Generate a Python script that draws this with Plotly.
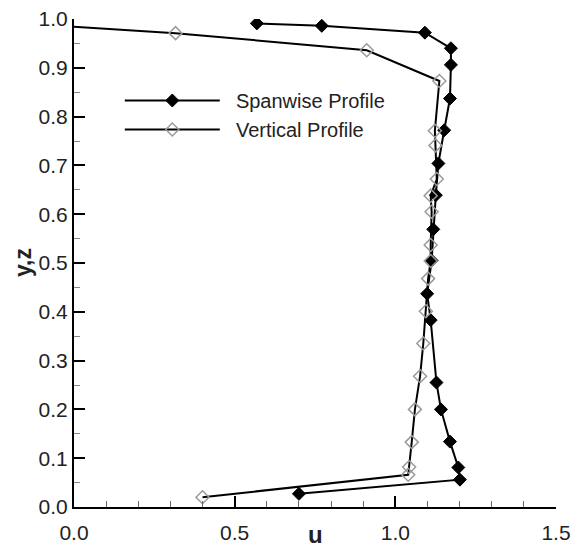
import plotly.graph_objects as go

# Spanwise velocity profile (filled diamonds)
span_u = [0.569, 0.771, 1.092, 1.173, 1.173, 1.170, 1.152, 1.134, 1.126, 1.118,
          1.113, 1.099, 1.110, 1.128, 1.142, 1.170, 1.196, 1.201, 0.700]
span_y = [0.991, 0.986, 0.972, 0.940, 0.906, 0.837, 0.772, 0.704, 0.639, 0.569,
          0.505, 0.437, 0.383, 0.255, 0.200, 0.134, 0.081, 0.056, 0.027]

# Vertical velocity profile (open diamonds)
vert_u = [-0.04, 0.316, 0.911, 1.137, 1.123, 1.125, 1.129, 1.110, 1.113, 1.110,
          1.110, 1.102, 1.095, 1.087, 1.077, 1.061, 1.051, 1.043, 1.040, 0.400]
vert_y = [0.986, 0.971, 0.936, 0.873, 0.771, 0.741, 0.672, 0.638, 0.605, 0.537,
          0.504, 0.468, 0.401, 0.335, 0.268, 0.200, 0.133, 0.082, 0.066, 0.020]

FONT = "Liberation Sans, Arial, sans-serif"
NBSP = "\u00a0\u00a0"

fig = go.Figure()
fig.add_trace(go.Scatter(
    x=span_u, y=span_y, mode="lines+markers", name=NBSP + "Spanwise Profile",
    line=dict(color="black", width=2),
    marker=dict(symbol="diamond", size=10, color="black",
                line=dict(color="black", width=1)),
))
fig.add_trace(go.Scatter(
    x=vert_u, y=vert_y, mode="lines+markers", name=NBSP + "Vertical Profile",
    line=dict(color="black", width=2),
    marker=dict(symbol="diamond-open", size=10, color="#9a9a9a",
                line=dict(color="#9a9a9a", width=1.5)),
))

axis_common = dict(
    showline=True, linecolor="black", linewidth=2, mirror=False,
    showgrid=False, zeroline=False,
    ticks="inside", ticklen=11, tickwidth=2, tickcolor="black",
    tickfont=dict(family=FONT, size=21, color="#222"),
    tickformat=".1f",
)

fig.update_xaxes(range=[0, 1.5], dtick=0.5, tick0=0,
                 minor=dict(dtick=0.1, ticks="inside", ticklen=6,
                            tickwidth=1, tickcolor="#666"),
                 ticklabelstandoff=6, **axis_common)
fig.update_yaxes(range=[0, 1.0], dtick=0.1, tick0=0,
                 minor=dict(dtick=0.05, ticks="inside", ticklen=6,
                            tickwidth=1, tickcolor="#888"),
                 ticklabelstandoff=0, **axis_common)

fig.update_layout(
    width=574, height=550,
    margin=dict(l=74, r=18, t=19, b=43, autoexpand=False),
    paper_bgcolor="white", plot_bgcolor="white",
    font=dict(family=FONT, color="#222"),
    showlegend=True,
    legend=dict(x=0.095, y=0.873, xanchor="left", yanchor="top",
                bgcolor="rgba(0,0,0,0)", itemwidth=95,
                font=dict(family=FONT, size=20, color="#222"),
                tracegroupgap=0),
    annotations=[
        dict(text="<b>u</b>", x=0.5, y=0, xref="paper", yref="paper",
             xanchor="center", yanchor="middle", yshift=-27, showarrow=False,
             font=dict(family=FONT, size=24, color="#222")),
        dict(text="<b>y,z</b>", x=0, y=0.5, xref="paper", yref="paper",
             xanchor="center", yanchor="middle", xshift=-51, showarrow=False,
             textangle=-90, font=dict(family=FONT, size=23, color="#222")),
    ],
)

fig.write_html("out.html")
